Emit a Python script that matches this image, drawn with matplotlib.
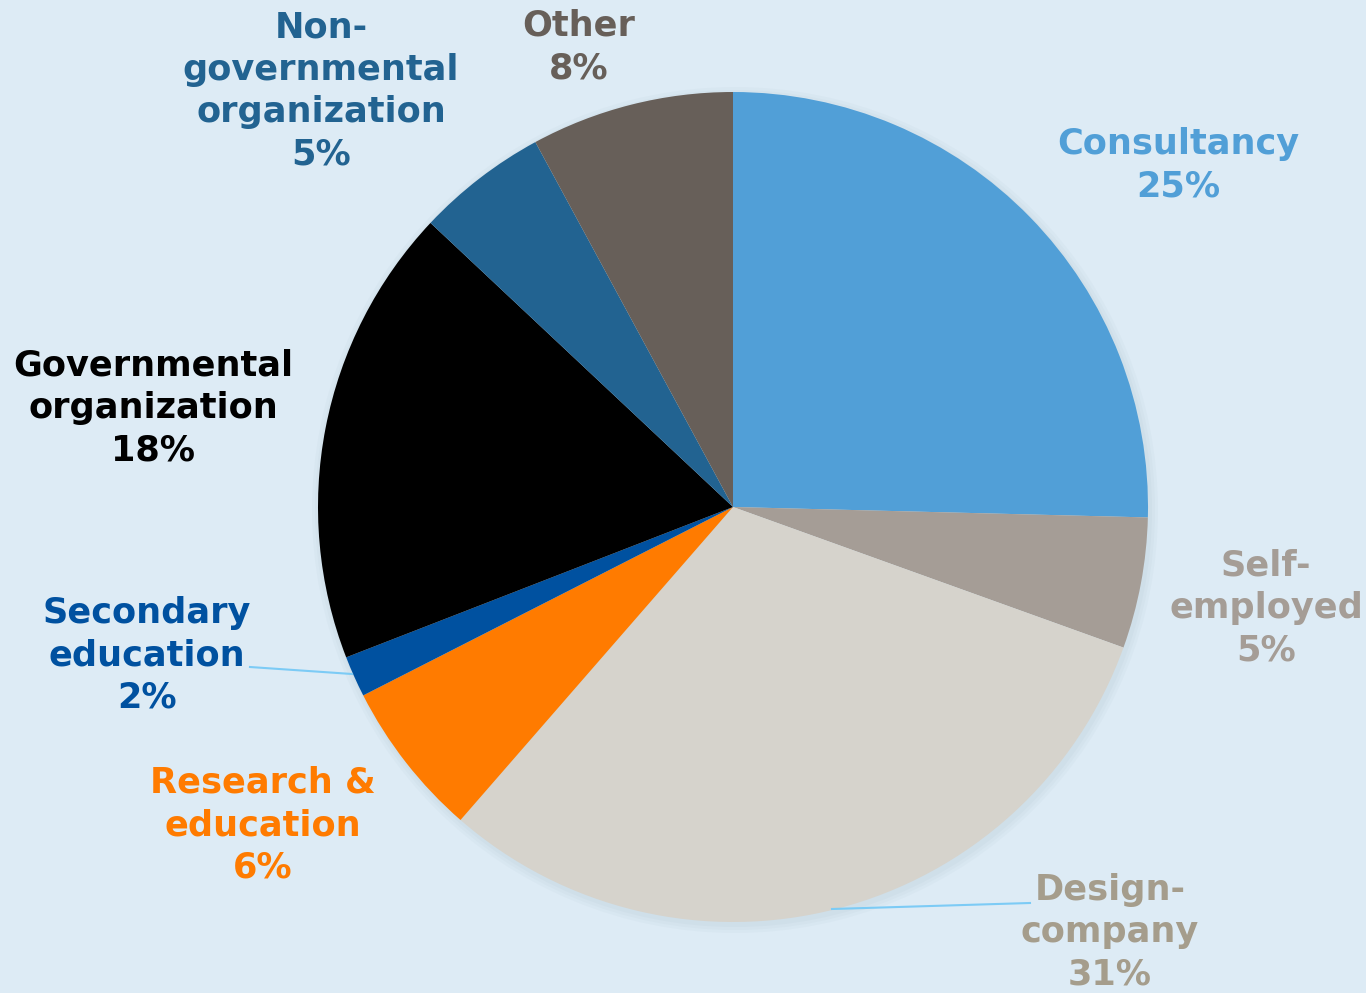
import matplotlib.pyplot as plt
import matplotlib.patches as mpatches

# data (clockwise from 12 o'clock)
categories = ['Consultancy', 'Self-\nemployed', 'Design-\ncompany', 'Research &\neducation',
              'Secondary\neducation', 'Governmental\norganization',
              'Non-\ngovernmental\norganization', 'Other']
shares = [25.4, 5.1, 30.9, 6.1, 1.6, 17.9, 5.1, 7.9]
colors = ['#519FD7', '#A59D96', '#D6D3CC', '#FF7B00', '#0051A0', '#000000', '#226391', '#675F59']
label_colors = ['#519FD7', '#A59D96', '#A59D8C', '#FF7B00', '#0051A0', '#000000', '#226391', '#675F59']

# label centres in pixels (x from left, y from top)
label_pos = [(1178, 165), (1266, 608), (1110, 932), (263, 825),
             (147, 655), (153, 408), (321, 91), (579, 47)]

bg = '#DDEBF5'
W, H = 1366, 993
cx, cy, R = 733, 486, 415

fig = plt.figure(figsize=(W / 100, H / 100), dpi=100, facecolor=bg)
ax = fig.add_axes([0, 0, 1, 1])
ax.set_facecolor(bg)

# soft shadow
for i, a in enumerate([0.05, 0.05, 0.06]):
    ax.add_patch(mpatches.Circle((cx + 2, cy - 3), R + 8 - 3 * i, color='#8aa0b0', alpha=a, lw=0))

wedges, _ = ax.pie(shares, colors=colors, startangle=90, counterclock=False,
                   center=(cx, cy), radius=R, wedgeprops=dict(linewidth=0))
ax.set_xlim(0, W)
ax.set_ylim(0, H)
ax.set_aspect('equal')
ax.axis('off')

for name, v, c, (px, py) in zip(categories, shares, label_colors, label_pos):
    ax.text(px, H - py, f"{name}\n{round(v)}%", color=c, ha='center', va='center',
            fontsize=25.3, fontweight='bold', family='DejaVu Sans', linespacing=1.31)

# leader lines
ax.plot([250, 352], [H - 667, H - 674], color='#7CCBF5', lw=1.5)
ax.plot([1030, 832], [H - 903, H - 909], color='#7CCBF5', lw=1.5)

fig.savefig('out.png', dpi=100, facecolor=bg)
